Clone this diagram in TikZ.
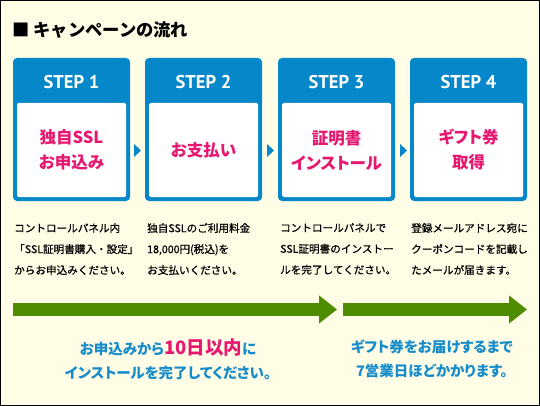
\documentclass[tikz,border=0pt]{standalone}
\usepackage{fontspec}
\setmainfont{Noto Sans CJK JP}
\newfontfamily\jpp{Noto Sans CJK JP}[RawFeature=+palt]
\newfontfamily\jpdesc{Noto Sans CJK JP}[FakeBold=0.7]
\newfontfamily\stepfont{PT Sans}
\usetikzlibrary{arrows.meta}
\definecolor{bgc}{HTML}{FFFDE6}
\definecolor{boxblue}{HTML}{0587C9}
\definecolor{pinkc}{HTML}{E6186F}
\definecolor{greenc}{HTML}{4E8C00}
\definecolor{txtblue}{HTML}{168CCB}
\begin{document}
\begin{tikzpicture}[x=1pt,y=-1pt,
  outerbox/.style={fill=boxblue,rounded corners=4pt,minimum width=117pt,minimum height=143pt,inner sep=0pt},
  innerbox/.style={fill=white,rounded corners=1.5pt,minimum width=109pt,minimum height=94pt,inner sep=0pt},
  steplabel/.style={text=white,font=\stepfont\bfseries\fontsize{18.5}{20}\selectfont,inner sep=0pt},
  steptext/.style={text=pinkc,font=\jpp\bfseries\fontsize{16.5}{25}\selectfont,align=center,inner sep=0pt},
  desc/.style={anchor=north west,align=left,inner sep=0pt,font=\jpdesc\fontsize{10.6}{21}\selectfont},
  marker/.style={fill=boxblue},
  bigarrow/.style={draw=greenc,line width=13pt,-{Triangle[width=27pt,length=18pt]}},
  note/.style={text=txtblue,align=center,inner sep=0pt,font=\jpp\bfseries\fontsize{14.5}{24}\selectfont}
]
\useasboundingbox (0,0) rectangle (540,406);
\fill[bgc] (0,0) rectangle (540,406);
\draw[black,line width=1pt] (0.5,0.5) rectangle (539.5,405.5);

\node[anchor=west,inner sep=0pt,font=\bfseries\fontsize{17.3}{18}\selectfont] (title) at (12,30) {■ キャンペーンの流れ};

\foreach \i/\x in {1/13,2/145,3/278,4/410}{
  \node[outerbox] (box\i) at (\x+58.5,129.5) {};
  \node[innerbox] (in\i) at (\x+58.5,150) {};
  \node[steplabel] (h\i) at (\x+58.5,82) {STEP \i};
}
\node[steptext] (t1) at (in1) {独自SSL\\お申込み};
\node[steptext] (t2) at (in2) {お支払い};
\node[steptext] (t3) at (in3) {証明書\\インストール};
\node[steptext] (t4) at (in4) {ギフト券\\取得};

\fill[marker] (134,144) -- (141,150.5) -- (134,157) -- cycle;
\fill[marker] (267,144) -- (274,150.5) -- (267,157) -- cycle;
\fill[marker] (400,144) -- (407,150.5) -- (400,157) -- cycle;

\node[desc] (d1) at (14,223) {コントロールパネル内\\「SSL証明書購入・設定」\\からお申込みください。};
\node[desc] (d2) at (147,223) {独自SSLのご利用料金\\18,000円(税込)を\\お支払いください。};
\node[desc] (d3) at (280,223) {コントロールパネルで\\SSL証明書のインストー\\ルを完了してください。};
\node[desc] (d4) at (411,223) {登録メールアドレス宛に\\クーポンコードを記載し\\たメールが届きます。};

\coordinate (a1s) at (13,309.5);
\coordinate (a1e) at (337,309.5);
\coordinate (a2s) at (343,309.5);
\coordinate (a2e) at (527,309.5);
\draw[bigarrow] (a1s) -- (a1e);
\draw[bigarrow] (a2s) -- (a2e);

\node[note] (m1) at (168,359) {お申込みから{\color{pinkc}\fontsize{18.5}{24}\selectfont 10日以内}に\\インストールを完了してください。};
\node[note] (m2) at (432,359) {ギフト券をお届けするまで\\7営業日ほどかかります。};
\end{tikzpicture}
\end{document}
